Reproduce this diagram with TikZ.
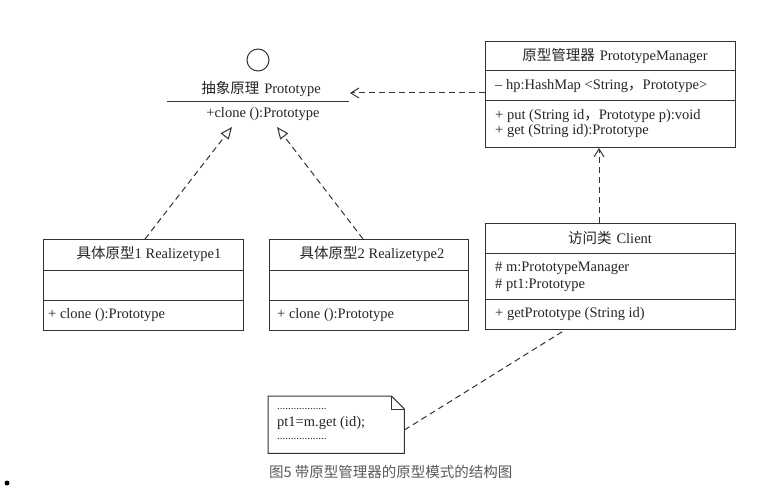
\documentclass[tikz,border=0pt]{standalone}
\usepackage{fontspec}
\setmainfont{Liberation Serif}
\newfontfamily\cjk{Noto Sans CJK SC}
\usetikzlibrary{arrows.meta}
\definecolor{linec}{HTML}{333333}
\definecolor{textc}{HTML}{262626}
\definecolor{captc}{HTML}{5A5A5A}
\begin{document}
\begin{tikzpicture}[x=1pt,y=-1pt,
  box/.style={draw=linec, line width=1pt, inner sep=0pt, anchor=north west},
  divl/.style={draw=linec, line width=1pt},
  txt/.style={font=\fontsize{14.5}{16}\selectfont, text=textc, inner sep=0pt},
  dots/.style={font=\fontsize{11}{12}\selectfont, text=textc, inner sep=0pt, anchor=base west},
  dashl/.style={draw=linec, line width=1pt, dash pattern=on 6pt off 4pt},
  gen/.style={dashl, -{Triangle[open,length=12pt,width=10pt,line width=1pt]}},
  dep/.style={dashl, -{Straight Barb[length=8pt,width=10pt,line width=1pt]}}]
\useasboundingbox (0,0) rectangle (777,503);
\fill[white] (0,0) rectangle (777,503);

% Prototype (interface)
\node[draw=linec, line width=1pt, circle, minimum size=22pt, inner sep=0pt] (lolly) at (258,60) {};
\node[txt] (ptitle) at (261,89) {{\cjk 抽象原理}\hspace{5pt}Prototype};
\coordinate (plineL) at (167,102);
\coordinate (plineR) at (349,102);
\draw[divl] (plineL) -- (plineR);
\node[txt] (pop) at (263,114) {+clone ():Prototype};
\coordinate (gtip1) at (232,127);
\coordinate (gtip2) at (277,127);
\coordinate (deptip) at (350,93);

% Prototype manager
\node[box, minimum width=250pt, minimum height=106pt] (pm) at (485,41) {};
\draw[divl] (pm.west |- 0,71) -- (pm.east |- 0,71);
\draw[divl] (pm.west |- 0,101) -- (pm.east |- 0,101);
\node[txt] (pmt) at (615,56) {{\cjk 原型管理器}\hspace{5pt}PrototypeManager};
\node[txt, anchor=west] (pmhp) at (495,86) {– hp:HashMap <String{\cjk ，}Prototype>};
\node[txt, anchor=west] (pmput) at (495,116) {+ put (String id{\cjk ，}Prototype p):void};
\node[txt, anchor=west] (pmget) at (495,131) {+ get (String id):Prototype};

% Client
\node[box, minimum width=250pt, minimum height=106pt] (cl) at (485,223) {};
\draw[divl] (cl.west |- 0,253) -- (cl.east |- 0,253);
\draw[divl] (cl.west |- 0,299) -- (cl.east |- 0,299);
\node[txt] (clt) at (610,238) {{\cjk 访问类}\hspace{5pt}Client};
\node[txt, anchor=west] (clm) at (495,268) {\# m:PrototypeManager};
\node[txt, anchor=west] (clp) at (495,285) {\# pt1:Prototype};
\node[txt, anchor=west] (clg) at (495,314) {+ getPrototype (String id)};

% Realizetype1
\node[box, minimum width=200pt, minimum height=91pt] (r1) at (43,239) {};
\draw[divl] (r1.west |- 0,270) -- (r1.east |- 0,270);
\draw[divl] (r1.west |- 0,300) -- (r1.east |- 0,300);
\node[txt] (r1t) at (149,254) {{\cjk 具体原型}1 Realizetype1};
\node[txt, anchor=west] (r1c) at (48,315) {+ clone ():Prototype};

% Realizetype2
\node[box, minimum width=199pt, minimum height=91pt] (r2) at (269,239) {};
\draw[divl] (r2.west |- 0,270) -- (r2.east |- 0,270);
\draw[divl] (r2.west |- 0,300) -- (r2.east |- 0,300);
\node[txt] (r2t) at (372,254) {{\cjk 具体原型}2 Realizetype2};
\node[txt, anchor=west] (r2c) at (277,315) {+ clone ():Prototype};

% Note
\node[inner sep=0pt, minimum width=136pt, minimum height=57pt, anchor=north west] (note) at (268,396) {};
\draw[divl, line join=miter] (note.north west) -- ([xshift=-13pt]note.north east) -- ([yshift=-13pt]note.north east) -- (note.south east) -- (note.south west) -- cycle;
\draw[divl] ([xshift=-13pt]note.north east) -- ([xshift=-13pt,yshift=-13pt]note.north east) -- ([yshift=-13pt]note.north east);
\node[dots] (nd1) at (277,409) {..................};
\node[txt, anchor=west] (ncode) at (277,423) {pt1=m.get (id);};
\node[dots] (nd2) at (277,439) {..................};

% Connectors
\draw[gen] (r1.north -| 145,0) -- (gtip1);
\draw[gen] (r2.north -| 363,0) -- (gtip2);
\draw[dep] (pm.west |- deptip) -- (deptip);
\draw[dep] (cl.north -| 599,0) -- (pm.south -| 599,0);
\draw[dashl] (note.east |- 0,430) -- (cl.south -| 565,0);

% Caption and bullet
\node[font=\cjk\fontsize{14.5}{16}\selectfont, text=captc, anchor=west, inner sep=0pt] (cap) at (269,472) {图5 带原型管理器的原型模式的结构图};
\node[circle, fill=black, inner sep=0pt, minimum size=5pt] (bul) at (7,483) {};
\end{tikzpicture}
\end{document}
